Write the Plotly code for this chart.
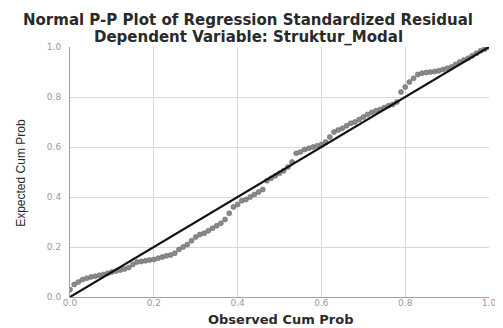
import plotly.graph_objects as go

# Observed cumulative probability (x) and expected cumulative probability (y)
observed_cum_prob = [
    0.00, 0.01, 0.02, 0.03, 0.04, 0.05, 0.06, 0.07, 0.08, 0.09,
    0.10, 0.11, 0.12, 0.13, 0.14, 0.15, 0.16, 0.17, 0.18, 0.19,
    0.20, 0.21, 0.22, 0.23, 0.24, 0.25, 0.26, 0.27, 0.28, 0.29,
    0.30, 0.31, 0.32, 0.33, 0.34, 0.35, 0.36, 0.37, 0.38, 0.39,
    0.40, 0.41, 0.42, 0.43, 0.44, 0.45, 0.46, 0.47, 0.48, 0.49,
    0.50, 0.51, 0.52, 0.53, 0.54, 0.55, 0.56, 0.57, 0.58, 0.59,
    0.60, 0.61, 0.62, 0.63, 0.64, 0.65, 0.66, 0.67, 0.68, 0.69,
    0.70, 0.71, 0.72, 0.73, 0.74, 0.75, 0.76, 0.77, 0.78, 0.79,
    0.80, 0.81, 0.82, 0.83, 0.84, 0.85, 0.86, 0.87, 0.88, 0.89,
    0.90, 0.91, 0.92, 0.93, 0.94, 0.95, 0.96, 0.97, 0.98, 0.99, 1.00,
]
expected_cum_prob = [
    0.030, 0.050, 0.060, 0.070, 0.075, 0.080, 0.083, 0.087, 0.090, 0.095,
    0.100, 0.104, 0.108, 0.112, 0.118, 0.130, 0.140, 0.142, 0.145, 0.148,
    0.150, 0.155, 0.160, 0.165, 0.168, 0.175, 0.190, 0.200, 0.210, 0.225,
    0.240, 0.250, 0.255, 0.265, 0.275, 0.285, 0.295, 0.310, 0.335, 0.360,
    0.370, 0.385, 0.390, 0.400, 0.410, 0.420, 0.430, 0.465, 0.475, 0.485,
    0.495, 0.505, 0.520, 0.540, 0.575, 0.580, 0.590, 0.595, 0.600, 0.605,
    0.610, 0.620, 0.640, 0.660, 0.668, 0.675, 0.685, 0.695, 0.700, 0.710,
    0.720, 0.730, 0.738, 0.745, 0.750, 0.758, 0.765, 0.770, 0.780, 0.820,
    0.840, 0.860, 0.875, 0.890, 0.895, 0.898, 0.900, 0.902, 0.905, 0.910,
    0.915, 0.920, 0.930, 0.940, 0.948, 0.955, 0.965, 0.975, 0.985, 0.992, 1.000,
]
ref_line_x = [0.0, 1.0]
ref_line_y = [0.0, 1.0]
tick_vals = [0.0, 0.2, 0.4, 0.6, 0.8, 1.0]
tick_text = ["0.0", "0.2", "0.4", "0.6", "0.8", "1.0"]

title_text = "Normal P-P Plot of Regression Standardized Residual"
subtitle_text = "Dependent Variable: Struktur_Modal"
x_title = "Observed Cum Prob"
y_title = "Expected Cum Prob"

# The page body adds an 8px offset, so the figure is sized to fill the rest of the window
W, H = 495, 320
ML, MR, MT, MB = 62, 7, 39, 31

fig = go.Figure()
fig.add_trace(go.Scatter(
    x=observed_cum_prob, y=expected_cum_prob, mode="markers",
    marker=dict(size=5, color="#8a8a8a", line=dict(width=0.6, color="#6a6a6a")),
    showlegend=False, hoverinfo="skip",
))
fig.add_trace(go.Scatter(
    x=ref_line_x, y=ref_line_y, mode="lines",
    line=dict(color="#111111", width=2.2),
    showlegend=False, hoverinfo="skip",
))

axis_common = dict(
    range=[0, 1], tickvals=tick_vals, ticktext=tick_text,
    showgrid=True, gridcolor="#d8d8d8", gridwidth=1,
    showline=True, linecolor="#a0a0a0", linewidth=1,
    zeroline=False, ticks="", ticklabeloverflow="allow",
    tickfont=dict(family="DejaVu Sans, sans-serif", size=9, color="#9a9a9a"),
)
fig.update_xaxes(**axis_common, ticklabelstandoff=-3)
fig.update_yaxes(**axis_common, ticklabelstandoff=6)

plot_w = W - ML - MR
plot_h = H - MT - MB
def px_to_paper_x(px):
    return (px - ML) / plot_w
def px_to_paper_y(py):
    return (H - MB - py) / plot_h

fig.update_layout(
    width=W, height=H,
    margin=dict(l=ML, r=MR, t=MT, b=MB),
    paper_bgcolor="white", plot_bgcolor="white",
    annotations=[
        dict(text="<b>" + title_text + "</b>", xref="paper", yref="paper",
             x=px_to_paper_x(243), y=px_to_paper_y(12), xanchor="center", yanchor="middle",
             showarrow=False, font=dict(family="DejaVu Sans", size=15, color="#2a2a2a")),
        dict(text="<b>" + subtitle_text + "</b>", xref="paper", yref="paper",
             x=px_to_paper_x(243), y=px_to_paper_y(29), xanchor="center", yanchor="middle",
             showarrow=False, font=dict(family="DejaVu Sans", size=15, color="#2a2a2a")),
        dict(text="<b>" + x_title + "</b>", xref="paper", yref="paper",
             x=px_to_paper_x(277), y=px_to_paper_y(311), xanchor="center", yanchor="middle",
             showarrow=False, font=dict(family="DejaVu Sans", size=13, color="#2a2a2a")),
        dict(text=y_title, xref="paper", yref="paper", textangle=-90,
             x=px_to_paper_x(12), y=px_to_paper_y(165), xanchor="center", yanchor="middle",
             showarrow=False, font=dict(family="Liberation Sans Narrow, Liberation Sans", size=12, color="#2a2a2a")),
    ],
)

fig.write_html("out.html")
